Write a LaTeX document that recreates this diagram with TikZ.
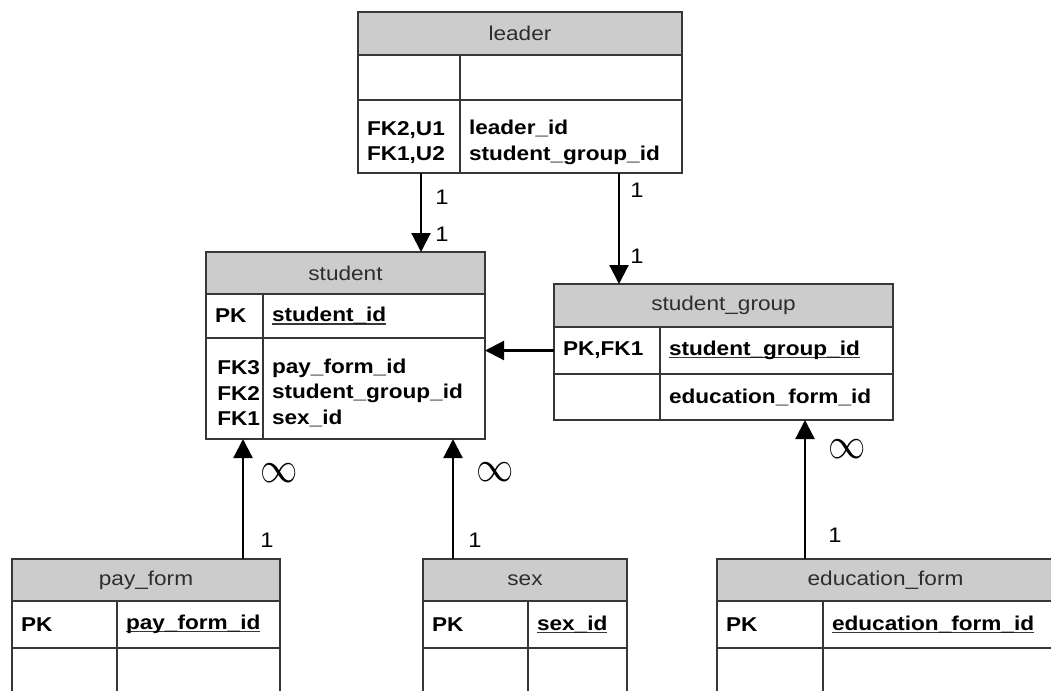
\documentclass[tikz,border=0pt]{standalone}
\usepackage{fontspec}
\setmainfont{Liberation Sans}[FakeStretch=1.13]
\usetikzlibrary{arrows.meta,positioning}

\definecolor{hdrgray}{RGB}{204,204,204}
\definecolor{gridline}{RGB}{55,55,55}
\definecolor{hdrtext}{RGB}{45,45,45}

% underlined primary key
\newcommand{\pkname}[1]{\setbox0\hbox{#1}\rlap{\color{gridline}\rule[-2.8pt]{\wd0}{1.3pt}}\box0}

\tikzset{
  hdr/.style 2 args={draw=gridline, fill=hdrgray, line width=1.4pt, outer sep=0pt, inner sep=0pt,
    anchor=north west, minimum width=#1, minimum height=#2, text=hdrtext, font=\fontsize{20}{20}\selectfont},
  cell/.style n args={3}{draw=gridline, line width=1.4pt, outer sep=0pt, inner xsep=9pt, inner ysep=0pt,
    anchor=north west, text width=#1, minimum height=#2, align=#3, font=\bfseries\fontsize{20}{25.5}\selectfont},
  drop/.style={execute at begin node={\rule{0pt}{#1}}},
  rel/.style={-{Triangle[length=19pt,width=19pt]}, line width=2.2pt},
  card/.style={inner sep=0pt, font=\fontsize{21}{21}\selectfont},
  many/.style={inner sep=0pt, font=\fontsize{24.88}{25}\selectfont},
}

\begin{document}
\begin{tikzpicture}[x=1pt,y=-1pt]
    \useasboundingbox (0,0) rectangle (1051,690);
    \clip (0,0) rectangle (1051,690);

    % leader
    \node[hdr={324}{43}] (leader) at (358,12) {leader};
    \node[cell={84}{45}{left}] (ldrk1) at (leader.south west) {};
    \node[cell={204}{45}{left}] (ldrf1) at (ldrk1.north east) {};
    \node[cell={84}{73}{left}, drop=26pt] (ldrk2) at (ldrk1.south west) {FK2,U1\\FK1,U2};
    \node[cell={204}{73}{left}, drop=26pt] (ldrf2) at (ldrk2.north east) {leader\_id\\student\_group\_id};

    % student
    \node[hdr={279}{42}] (student) at (206,252) {student};
    \node[cell={39}{44}{left}] (stk1) at (student.south west) {PK};
    \node[cell={204}{44}{left}] (stf1) at (stk1.north east) {\pkname{student\_id}};
    \node[cell={51}{101}{right}, inner xsep=3pt, drop=23pt] (stk2) at (stk1.south west) {FK3\\FK2\\FK1};
    \node[cell={204}{101}{left}, drop=23pt] (stf2) at (stk2.north east) {pay\_form\_id\\student\_group\_id\\sex\_id};

    % student_group
    \node[hdr={339}{43}] (sgroup) at (554,284) {student\_group};
    \node[cell={88}{47}{left}] (sgk1) at (sgroup.south west) {PK,FK1};
    \node[cell={215}{47}{left}] (sgf1) at (sgk1.north east) {\pkname{student\_group\_id}};
    \node[cell={88}{46}{left}] (sgk2) at (sgk1.south west) {};
    \node[cell={215}{46}{left}] (sgf2) at (sgk2.north east) {education\_form\_id};

    % pay_form
    \node[hdr={268}{42}] (payform) at (12,559) {pay\_form};
    \node[cell={87}{47}{left}] (pfk1) at (payform.south west) {PK};
    \node[cell={145}{47}{left}] (pff1) at (pfk1.north east) {\pkname{pay\_form\_id}};
    \node[cell={87}{60}{left}] (pfk2) at (pfk1.south west) {};
    \node[cell={145}{60}{left}] (pff2) at (pfk2.north east) {};

    % sex
    \node[hdr={204}{42}] (sex) at (423,559) {sex};
    \node[cell={87}{47}{left}] (sxk1) at (sex.south west) {PK};
    \node[cell={81}{47}{left}] (sxf1) at (sxk1.north east) {\pkname{sex\_id}};
    \node[cell={87}{60}{left}] (sxk2) at (sxk1.south west) {};
    \node[cell={81}{60}{left}] (sxf2) at (sxk2.north east) {};

    % education_form
    \node[hdr={337}{42}] (eduform) at (717,559) {education\_form};
    \node[cell={88}{47}{left}] (efk1) at (eduform.south west) {PK};
    \node[cell={213}{47}{left}] (eff1) at (efk1.north east) {\pkname{education\_form\_id}};
    \node[cell={88}{60}{left}] (efk2) at (efk1.south west) {};
    \node[cell={213}{60}{left}] (eff2) at (efk2.north east) {};

    % relations
    \draw[rel] ([xshift=12pt]ldrk2.south) -- ([xshift=12pt]ldrk2.south |- student.north);
    \draw[rel] ([xshift=48pt]ldrf2.south) -- ([xshift=48pt]ldrf2.south |- sgroup.north);
    \draw[rel] (sgk1.west) -- (sgk1.west -| student.east);
    \draw[rel] ([xshift=97pt]payform.north) -- ([xshift=97pt]payform.north |- stk2.south);
    \draw[rel] ([xshift=-72pt]sex.north) -- ([xshift=-72pt]sex.north |- stk2.south);
    \draw[rel] ([xshift=-80.5pt]eduform.north) -- ([xshift=-80.5pt]eduform.north |- sgk2.south);

    % cardinalities
    \node[card] (c1) at (442,197) {1};
    \node[card] (c2) at (442,234) {1};
    \node[card] (c3) at (637,190) {1};
    \node[card] (c4) at (637,256) {1};
    \node[card] (c5) at (267,540) {1};
    \node[card] (c6) at (475,540) {1};
    \node[card] (c7) at (835,535) {1};
    \node[many] (m1) at (279,473) {\scalebox{1.5}[1.75]{$\infty$}};
    \node[many] (m2) at (495,472) {\scalebox{1.5}[1.75]{$\infty$}};
    \node[many] (m3) at (847,449) {\scalebox{1.5}[1.75]{$\infty$}};
\end{tikzpicture}
\end{document}
